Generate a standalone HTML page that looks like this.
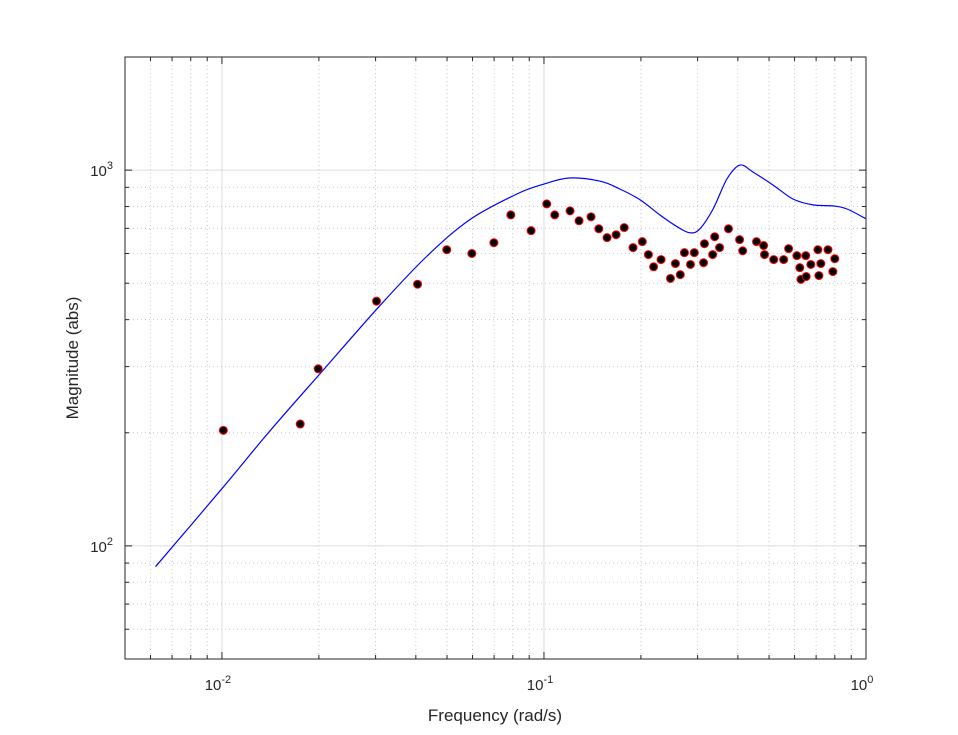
<!DOCTYPE html>
<html><head><meta charset="utf-8"><style>
html,body{margin:0;padding:0;background:#fff;}
svg{display:block;font-family:"Liberation Sans",sans-serif;}
</style></head><body>
<svg id="chart" width="958" height="735" viewBox="0 0 958 735">
<rect x="0" y="0" width="958" height="735" fill="#fff"/>
<rect x="125" y="57" width="741" height="602" fill="#fff"/>
<g id="grid"></g>
<g id="series"></g>
<rect x="125" y="57" width="741" height="602" fill="none" stroke="#262626" stroke-width="1"/>
<g id="ticks"></g>
<text x="495" y="721" text-anchor="middle" font-size="17" fill="#262626">Frequency (rad/s)</text>
<text transform="translate(78,358) rotate(-90)" text-anchor="middle" font-size="17" fill="#262626">Magnitude (abs)</text>
</svg>
<script>
const curveFreq=[0.00622,0.01,0.0140,0.0200,0.0308,0.0432,0.0588,0.0824,0.1,0.1197,0.149,0.172,0.199,0.229,0.259,0.284,0.305,0.335,0.370,0.406,0.446,0.514,0.593,0.684,0.790,0.873,1.0];
const curveMag=[88,142,201,285,434,589,738,864,918,953,935,891,833,760,707,681,698,788,947,1031,988,913,838,808,803,788,742];
const dataFreq=[0.0101,0.0175,0.0199,0.0302,0.0405,0.0499,0.0597,0.0699,0.0789,0.0912,0.102,0.108,0.1205,0.1285,0.140,0.148,0.157,0.1675,0.1775,0.189,0.202,0.211,0.219,0.231,0.247,0.256,0.265,0.273,0.285,0.293,0.313,0.315,0.334,0.339,0.351,0.374,0.405,0.414,0.457,0.481,0.484,0.517,0.555,0.575,0.610,0.623,0.628,0.650,0.652,0.674,0.709,0.714,0.724,0.762,0.789,0.800];
const dataMag=[203,211,296,448,497,614,600,641,760,690,813,760,779,733,751,698,661,673,703,622,645,596,553,578,515,564,527,603,561,603,567,637,596,665,622,698,653,610,645,630,596,578,578,618,592,550,512,592,521,561,614,524,564,614,537,581];
const xTickVals=[0.01,0.1,1];
const xTickExp=["-2","-1","0"];
const yTickVals=[100,1000];
const yTickExp=["2","3"];

const L=125,R=866,T=57,B=659;
const xmin=Math.log10(0.005),xmax=0;
const ymin=Math.log10(50),ymax=Math.log10(2000);
const X=f=>L+(Math.log10(f)-xmin)/(xmax-xmin)*(R-L);
const Y=m=>B-(Math.log10(m)-ymin)/(ymax-ymin)*(B-T);
const NS="http://www.w3.org/2000/svg";
function mk(tag,attrs,parent){const e=document.createElementNS(NS,tag);for(const k in attrs)e.setAttribute(k,attrs[k]);parent.appendChild(e);return e;}
const grid=document.getElementById('grid'),ser=document.getElementById('series'),tk=document.getElementById('ticks');

for(let d=-3;d<=0;d++){for(let k=1;k<=9;k++){const f=k*Math.pow(10,d);if(f<0.005||f>1)continue;const x=X(f);
const ln=mk('line',{x1:x,x2:x,y1:T,y2:B,stroke:k===1?'#dcdcdc':'#c8c8c8','stroke-width':1,'stroke-dasharray':k===1?'':'1,3'},grid);


mk('line',{x1:x,x2:x,y1:B,y2:B-(k===1?7:4),stroke:'#262626'},tk);
mk('line',{x1:x,x2:x,y1:T,y2:T+(k===1?7:4),stroke:'#262626'},tk);}}
for(let d=1;d<=3;d++){for(let k=1;k<=9;k++){const m=k*Math.pow(10,d);if(m<50||m>2000)continue;const y=Y(m);
const ln=mk('line',{x1:L,x2:R,y1:y,y2:y,stroke:k===1?'#dcdcdc':'#c8c8c8','stroke-width':1,'stroke-dasharray':k===1?'':'1,3'},grid);


mk('line',{x1:L,x2:L+(k===1?7:4),y1:y,y2:y,stroke:'#262626'},tk);
mk('line',{x1:R,x2:R-(k===1?7:4),y1:y,y2:y,stroke:'#262626'},tk);}}
xTickVals.forEach((v,i)=>{const t=mk('text',{x:X(v)-4,y:690,'text-anchor':'middle','font-size':15,fill:'#262626'},tk);


t.textContent='10';const s=mk('tspan',{dy:-7,'font-size':11},t);s.textContent=xTickExp[i];});
yTickVals.forEach((v,i)=>{const t=mk('text',{x:113,y:Y(v)+6,'text-anchor':'end','font-size':15,fill:'#262626'},tk);


t.textContent='10';const s=mk('tspan',{dy:-7,'font-size':11},t);s.textContent=yTickExp[i];});
const P=curveFreq.map((f,i)=>[X(f),Y(curveMag[i])]);
let d='M'+P[0][0].toFixed(1)+','+P[0][1].toFixed(1);
for(let i=0;i<P.length-1;i++){const p0=P[Math.max(0,i-1)],p1=P[i],p2=P[i+1],p3=P[Math.min(P.length-1,i+2)];
const c1=[p1[0]+(p2[0]-p0[0])/6,p1[1]+(p2[1]-p0[1])/6],c2=[p2[0]-(p3[0]-p1[0])/6,p2[1]-(p3[1]-p1[1])/6];
d+=' C'+c1.map(v=>v.toFixed(1)).join(',')+' '+c2.map(v=>v.toFixed(1)).join(',')+' '+p2.map(v=>v.toFixed(1)).join(',');}
const pl=mk('path',{d:d,fill:'none',stroke:'#0000ff','stroke-width':1.2,'stroke-linejoin':'round'},ser);


dataFreq.forEach((f,i)=>{const c=mk('circle',{cx:X(f),cy:Y(dataMag[i]),r:4,fill:'#000',stroke:'#ff0000','stroke-width':1},ser);

});
</script>
</body></html>
